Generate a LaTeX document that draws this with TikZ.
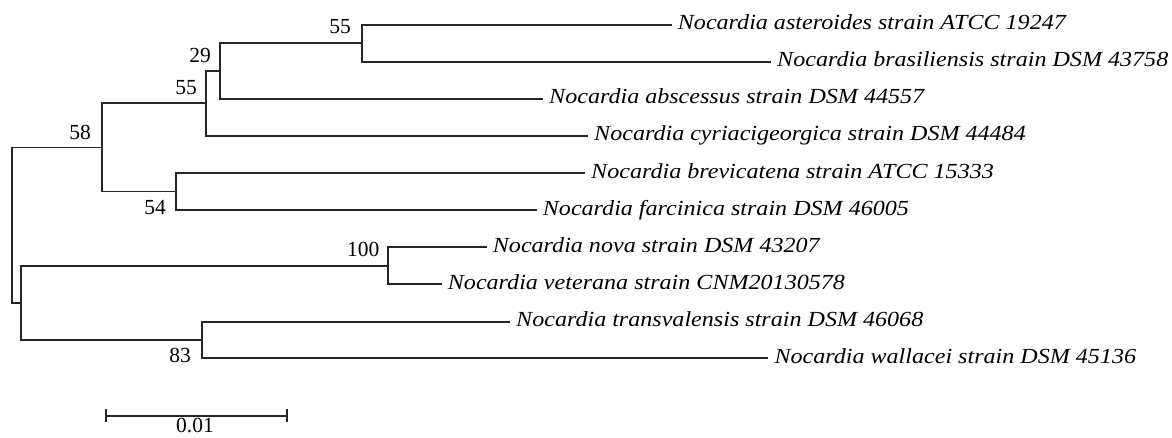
\documentclass[tikz,border=0pt]{standalone}
\usepackage{fontspec}
\setmainfont{Liberation Serif}
\newfontfamily\leaffont[FakeStretch=1.12]{Liberation Serif}
\begin{document}
\begin{tikzpicture}[x=1pt,y=-1pt,
  br/.style={line width=1.8pt,color=black!85},
  leaf/.style={anchor=west,inner xsep=6pt,inner ysep=0pt,text height=10pt,text depth=0pt,
    font=\leaffont\fontsize{21.5}{24}\selectfont\itshape},
  bs/.style={inner sep=0pt,font=\fontsize{21.5}{24}\selectfont},
]
\useasboundingbox (0,0) rectangle (1172,437);
% internal nodes
\coordinate (root) at (11.7,225.5);
\coordinate (n58) at (101.7,147.5);
\coordinate (n55) at (205.7,103.3);
\coordinate (n29) at (220.3,70.9);
\coordinate (n55t) at (362,43.2);
\coordinate (n54) at (175.7,191.5);
\coordinate (nF) at (20.7,302.8);
\coordinate (n100) at (388.3,265.8);
\coordinate (n83) at (201.7,340);
% leaves
\node[leaf] (asteroides) at (671.7,24.7) {Nocardia asteroides strain ATCC 19247};
\node[leaf] (brasiliensis) at (771,61.7) {Nocardia brasiliensis strain DSM 43758};
\node[leaf] (abscessus) at (543,98.7) {Nocardia abscessus strain DSM 44557};
\node[leaf] (cyriaci) at (588,135.7) {Nocardia cyriacigeorgica strain DSM 44484};
\node[leaf] (brevicatena) at (585,173) {Nocardia brevicatena strain ATCC 15333};
\node[leaf] (farcinica) at (536.7,210) {Nocardia farcinica strain DSM 46005};
\node[leaf] (nova) at (486.7,247.3) {Nocardia nova strain DSM 43207};
\node[leaf] (veterana) at (441.7,284.3) {Nocardia veterana strain CNM20130578};
\node[leaf] (transval) at (510,321.7) {Nocardia transvalensis strain DSM 46068};
\node[leaf] (wallacei) at (768.3,358.3) {Nocardia wallacei strain DSM 45136};
% branches
\draw[br] (root) |- (n58);
\draw[br] (root) |- (nF);
\draw[br] (n58) |- (n55);
\draw[br] (n58) |- (n54);
\draw[br] (n55) |- (n29);
\draw[br] (n55) |- (cyriaci.west);
\draw[br] (n29) |- (n55t);
\draw[br] (n29) |- (abscessus.west);
\draw[br] (n55t) |- (asteroides.west);
\draw[br] (n55t) |- (brasiliensis.west);
\draw[br] (n54) |- (brevicatena.west);
\draw[br] (n54) |- (farcinica.west);
\draw[br] (nF) |- (n100);
\draw[br] (nF) |- (n83);
\draw[br] (n100) |- (nova.west);
\draw[br] (n100) |- (veterana.west);
\draw[br] (n83) |- (transval.west);
\draw[br] (n83) |- (wallacei.west);
% bootstrap values
\node[bs] (b58) at (80,132.7) {58};
\node[bs] (b55) at (186,87.3) {55};
\node[bs] (b29) at (200,55) {29};
\node[bs] (b55t) at (340,26.7) {55};
\node[bs] (b54) at (155,207.7) {54};
\node[bs] (b100) at (363.3,249.3) {100};
\node[bs] (b83) at (180,355) {83};
% scale bar
\coordinate (sL) at (105.7,415.7);
\coordinate (sR) at (286.7,415.7);
\draw[br] (sL) -- (sR);
\draw[br] ([yshift=-6.5pt]sL) -- ([yshift=6.5pt]sL);
\draw[br] ([yshift=-6.5pt]sR) -- ([yshift=6.5pt]sR);
\node[bs] (scalelab) at (195,425.5) {0.01};
\end{tikzpicture}
\end{document}
